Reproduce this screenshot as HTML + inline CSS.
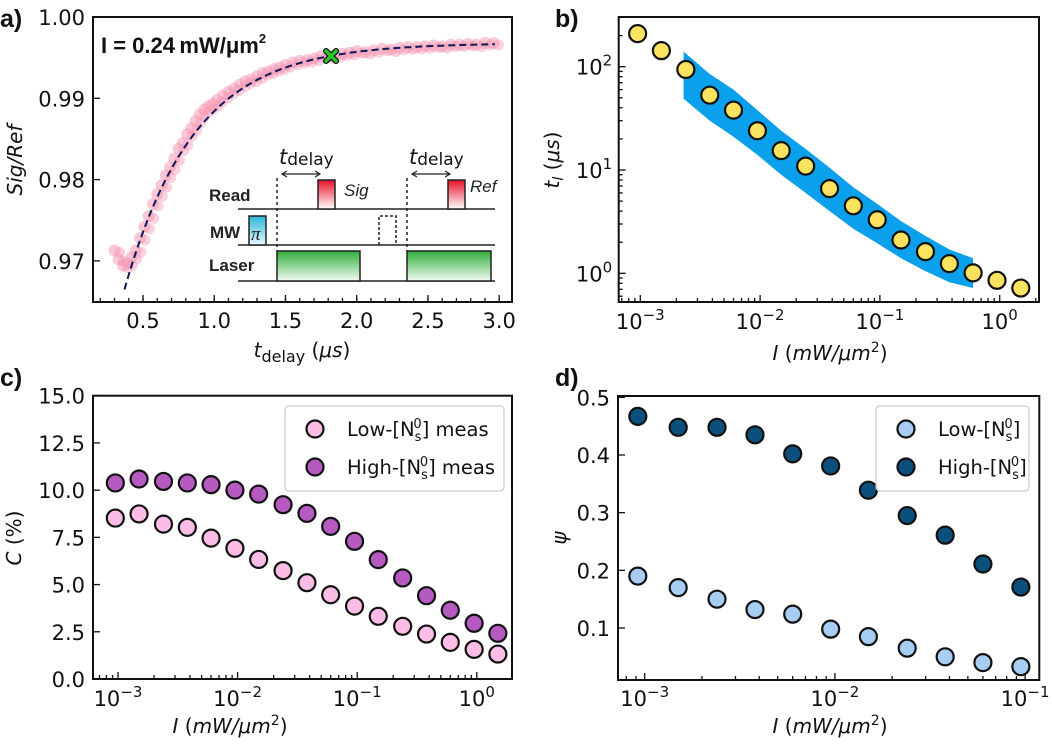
<!DOCTYPE html>
<html><head><meta charset="utf-8"><style>
html,body{margin:0;padding:0;background:#fff;}
svg{display:block;font-family:"DejaVu Sans","Liberation Sans",sans-serif;}
</style></head><body>
<svg id="fig" width="1052" height="748" viewBox="0 0 1052 748" xmlns="http://www.w3.org/2000/svg">
<g id="pa"></g>
<g id="pb"></g>
<g id="pc"></g>
<g id="pd"></g>
</svg>
<script>
// ---- Panel a data ----
const aTimes = [0.30,0.33,0.36,0.39,0.42,0.45,0.48,0.51,0.54,0.57,0.60,0.63,0.66,0.69,0.72,0.75,0.78,0.81,0.84,0.87,0.90,0.93,0.96,0.99,1.02,1.06,1.10,1.14,1.18,1.22,1.26,1.30,1.34,1.38,1.42,1.46,1.50,1.55,1.60,1.65,1.70,1.75,1.80,1.85,1.90,1.95,2.00,2.06,2.12,2.18,2.24,2.30,2.36,2.42,2.48,2.54,2.60,2.66,2.72,2.78,2.84,2.90,2.96];
const aRatio = [0.9713,0.9702,0.9694,0.9697,0.9705,0.9713,0.9728,0.9742,0.9755,0.9770,0.9782,0.9793,0.9805,0.9815,0.9826,0.9838,0.9845,0.9856,0.9863,0.9872,0.9880,0.9886,0.9890,0.9893,0.9898,0.9903,0.9908,0.9912,0.9917,0.9921,0.9923,0.9927,0.9931,0.9933,0.9936,0.9938,0.9941,0.9944,0.9946,0.9947,0.9949,0.9952,0.9951,0.9953,0.9955,0.9956,0.9958,0.9957,0.9959,0.9961,0.9960,0.9962,0.9963,0.9963,0.9964,0.9965,0.9964,0.9966,0.9966,0.9967,0.9966,0.9968,0.9968];
const aFitParams = [0.9968, 0.0645, 0.49]; // A, B, tau
const aFitRange = [0.37, 2.98];
const aMarker = [1.82, 0.9952];
const aXTicks = [0.5,1.0,1.5,2.0,2.5,3.0];
const aYTicks = [0.97,0.98,0.99,1.00];
// ---- Panel b data ----
const bIntensity = [0.00095,0.0015,0.0024,0.0038,0.006,0.0095,0.015,0.024,0.038,0.06,0.095,0.15,0.24,0.38,0.6,0.95,1.5];
const bTime = [209,143,94,53,38,24,15.4,10.9,6.6,4.5,3.3,2.1,1.62,1.24,1.01,0.855,0.72];
const bBandX = [0.0023,0.0038,0.006,0.0095,0.015,0.024,0.038,0.06,0.095,0.15,0.24,0.38,0.6];
const bBandUpper = [140,85,60,38,24,16,10.5,6.8,4.7,3.2,2.3,1.7,1.4];
const bBandLower = [49,30,21,14,9,6,4,2.7,1.95,1.4,1.05,0.82,0.72];
const bXTicks = [-3,-2,-1,0];
const bYTicks = [0,1,2];
// ---- Panel c data ----
const cIntensity = [0.00095,0.0015,0.0024,0.0038,0.006,0.0095,0.015,0.024,0.038,0.06,0.095,0.15,0.24,0.38,0.6,0.95,1.5];
const cLow = [8.52,8.74,8.2,8.03,7.46,6.92,6.33,5.74,5.1,4.46,3.86,3.32,2.79,2.38,1.94,1.57,1.32];
const cHigh = [10.38,10.59,10.46,10.38,10.29,10.0,9.79,9.23,8.77,8.08,7.29,6.32,5.35,4.41,3.64,2.95,2.42];
const cYTicks = [0,2.5,5,7.5,10,12.5,15];
const cXTicks = [-3,-2,-1,0];
// ---- Panel d data ----
const dIntensity = [0.00092,0.0015,0.0024,0.0038,0.006,0.0095,0.015,0.024,0.038,0.06,0.095];
const dLow = [0.190,0.170,0.150,0.132,0.124,0.098,0.085,0.065,0.050,0.040,0.033];
const dHigh = [0.467,0.448,0.448,0.435,0.402,0.381,0.339,0.295,0.261,0.211,0.171];
const dYTicks = [0.1,0.2,0.3,0.4,0.5];
const dXTicks = [-3,-2,-1];

const NS="http://www.w3.org/2000/svg";
function mk(parent,tag,attrs,text){const e=document.createElementNS(NS,tag);for(const k in attrs)e.setAttribute(k,attrs[k]);if(text!==undefined)e.textContent=text;parent.appendChild(e);return e;}
const L=Math.log10;
const TF=21, AF=20;

const xa=t=>93+(t-0.149)/(3.09-0.149)*(512-93);
const ya=v=>17+(1.0-v)/0.01*81.3;
const xb=v=>640.3+(L(v)+3)*119.8;
const yb=v=>170-(L(v)-1)*103.3;
const xc=v=>118+(L(v)+3)*119.6;
const yc=v=>679-v/15*283.3;
const xd=v=>644.7+(L(v)+3)*190.2;
const yd=v=>374+(70+(0.5-v)*1730)/3;

function frame(g,x0,y0,x1,y1){
  const r=mk(g,'rect',{x:x0,y:y0,width:x1-x0,height:y1-y0,fill:'none',stroke:'#111','stroke-width':2});
  
  
}
function tick(g,x1,y1,x2,y2){const t=mk(g,'line',{x1,y1,x2,y2,stroke:'#111','stroke-width':1.3});
  
  }
function label(g,x,y,txt,anchor,name,size){const t=mk(g,'text',{x,y,'text-anchor':anchor,'font-size':size||TF,fill:'#111'},txt);
  
  return t;}
function powLabel(g,x,y,exp,name){
  const t=mk(g,'text',{x,y,'text-anchor':'middle','font-size':TF,fill:'#111'});
  
  
  mk(t,'tspan',{},'10');
  mk(t,'tspan',{dy:-9,'font-size':15},exp<0?('\u2212'+(-exp)):String(exp));
}
function panelLetter(g,x,y,s){const t=mk(g,'text',{x,y,'font-size':25,'font-weight':'bold','font-family':'Liberation Sans, sans-serif',fill:'#111'},s);
  
  }
function logXTicks(g,sx,lo,hi,yb0,xmin,xmax){
  for(let d=lo;d<=hi;d++){for(let m=1;m<10;m++){const v=m*Math.pow(10,d);const x=sx(v);if(x<xmin||x>xmax)continue;
    tick(g,x,yb0,x,yb0-(m===1?7:4));}}
}
function logYTicks(g,sy,lo,hi,xl,ymin,ymax){
  for(let d=lo;d<=hi;d++){for(let m=1;m<10;m++){const v=m*Math.pow(10,d);const y=sy(v);if(y<ymin||y>ymax)continue;
    tick(g,xl,y,xl+(m===1?7:4),y);}}
}
function dot(g,x,y,r,fill,name){const c=mk(g,'circle',{cx:x,cy:y,r,fill,stroke:'#111','stroke-width':2.2});
  
  return c;}

// ===== Panel a =====
(function(){
  const g=document.getElementById('pa');
  panelLetter(g,0,27,'a)');
  const pts=mk(g,'g',{});
  
  
  aTimes.forEach((t,i)=>{const c=mk(pts,'circle',{cx:xa(t),cy:ya(aRatio[i]),r:6,fill:'#f59ab4','fill-opacity':0.55});
    
    
    const c2=mk(pts,'circle',{cx:xa(t)+5,cy:ya(aRatio[i])+2,r:5.5,fill:'#f59ab4','fill-opacity':0.45});
    
    });
  let d='';
  for(let t=aFitRange[0];t<=aFitRange[1]+1e-9;t+=0.02){const v=aFitParams[0]-aFitParams[1]*Math.exp(-t/aFitParams[2]);d+=(d?'L':'M')+xa(t).toFixed(1)+','+ya(v).toFixed(1);}
  const fit=mk(g,'path',{d,fill:'none',stroke:'#0d1a55','stroke-width':2,'stroke-dasharray':'7,4'});
  
  
  const mx=xa(aMarker[0]),my=ya(aMarker[1]);
  const xm=mk(g,'path',{d:`M${mx-5},${my-5}L${mx+5},${my+5}M${mx-5},${my+5}L${mx+5},${my-5}`,stroke:'#111','stroke-width':6,'stroke-linecap':'round'});
  
  
  mk(g,'path',{d:`M${mx-5},${my-5}L${mx+5},${my+5}M${mx-5},${my+5}L${mx+5},${my-5}`,stroke:'#2bc42b','stroke-width':3.5,'stroke-linecap':'round'});
  frame(g,93,17,512,302);
  aXTicks.forEach(v=>{tick(g,xa(v),302,xa(v),295);label(g,xa(v),328,v.toFixed(1),'middle','x-tick-label');});
  for(let v=0.2;v<=3.05;v+=0.1){const x=xa(v);tick(g,x,302,x,298);}
  aYTicks.forEach(v=>{tick(g,93,ya(v),100,ya(v));label(g,85,ya(v)+8,v.toFixed(2),'end','y-tick-label');});
  const yl=mk(g,'text',{x:0,y:0,transform:'translate(22,160) rotate(-90)','text-anchor':'middle','font-size':AF,'font-style':'italic',fill:'#111'},'Sig/Ref');
  
  
  const xl=mk(g,'text',{x:302,y:357,'text-anchor':'middle','font-size':AF,fill:'#111'});
  
  
  mk(xl,'tspan',{'font-style':'italic'},'t');mk(xl,'tspan',{dy:5,'font-size':16},'delay');mk(xl,'tspan',{dy:-5},' (');mk(xl,'tspan',{'font-style':'italic'},'\u03bcs');mk(xl,'tspan',{},')');
  const ann=mk(g,'text',{x:101,y:53,'font-size':22,'font-weight':'bold','font-family':'Liberation Sans, sans-serif',fill:'#111'});
  
  
  mk(ann,'tspan',{},'I = 0.24\u2009mW/\u03bcm');mk(ann,'tspan',{dy:-10,'font-size':13},'2');
  const ins=mk(g,'g',{'font-family':'Liberation Sans, sans-serif'});
  
  
  const defs=mk(ins,'defs',{});
  const gr=mk(defs,'linearGradient',{id:'gRed',x1:0,y1:0,x2:0,y2:1});mk(gr,'stop',{offset:0,'stop-color':'#e8102a'});mk(gr,'stop',{offset:1,'stop-color':'#fff'});
  const gg=mk(defs,'linearGradient',{id:'gGreen',x1:0,y1:0,x2:0,y2:1});mk(gg,'stop',{offset:0,'stop-color':'#2fae3a'});mk(gg,'stop',{offset:1,'stop-color':'#f4fcf4'});
  const gc=mk(defs,'linearGradient',{id:'gCyan',x1:0,y1:0,x2:0,y2:1});mk(gc,'stop',{offset:0,'stop-color':'#2ab8d8'});mk(gc,'stop',{offset:1,'stop-color':'#e8f8fc'});
  [209,245,281].forEach(y=>mk(ins,'line',{x1:238,y1:y,x2:495,y2:y,stroke:'#222','stroke-width':1.5}));
  mk(ins,'rect',{x:318,y:180,width:17,height:29,fill:'url(#gRed)',stroke:'#222','stroke-width':1.5});
  mk(ins,'rect',{x:448,y:180,width:17,height:29,fill:'url(#gRed)',stroke:'#222','stroke-width':1.5});
  mk(ins,'rect',{x:249,y:216,width:17,height:29,fill:'url(#gCyan)',stroke:'#222','stroke-width':1.5});
  mk(ins,'path',{d:'M379,245V216H396V245',fill:'none',stroke:'#222','stroke-width':1.5,'stroke-dasharray':'3,2'});
  mk(ins,'rect',{x:277,y:251,width:83,height:30,fill:'url(#gGreen)',stroke:'#222','stroke-width':1.5});
  mk(ins,'rect',{x:407,y:251,width:84,height:30,fill:'url(#gGreen)',stroke:'#222','stroke-width':1.5});
  [277,407].forEach(x=>mk(ins,'line',{x1:x,y1:178,x2:x,y2:251,stroke:'#222','stroke-width':1.5,'stroke-dasharray':'3,3'}));
  [[282,320],[412,450]].forEach(([a,b])=>{mk(ins,'line',{x1:a,y1:174,x2:b,y2:174,stroke:'#222','stroke-width':1.2});
    mk(ins,'path',{d:`M${a+5},171L${a},174L${a+5},177M${b-5},171L${b},174L${b-5},177`,fill:'none',stroke:'#222','stroke-width':1.2});});
  [279,409].forEach(x=>{const t=mk(ins,'text',{x,y:164,'font-size':21,fill:'#111','font-family':'DejaVu Sans, sans-serif'});
    mk(t,'tspan',{'font-style':'italic'},'t');mk(t,'tspan',{'font-size':17,dy:1},'delay');});
  mk(ins,'text',{x:209,y:201,'font-size':17,'font-weight':'bold',fill:'#222'},'Read');
  mk(ins,'text',{x:210,y:238,'font-size':17,'font-weight':'bold',fill:'#222'},'MW');
  mk(ins,'text',{x:209,y:271,'font-size':17,'font-weight':'bold',fill:'#222'},'Laser');
  mk(ins,'text',{x:251,y:240,'font-size':19,'font-style':'italic','font-family':'Liberation Serif, serif',fill:'#222'},'\u03c0');
  mk(ins,'text',{x:344,y:196,'font-size':17,'font-style':'italic',fill:'#222'},'Sig');
  mk(ins,'text',{x:470,y:192,'font-size':17,'font-style':'italic',fill:'#222'},'Ref');
})();

// ===== Panel b =====
(function(){
  const g=document.getElementById('pb');
  panelLetter(g,555,27,'b)');
  let d='';
  bBandX.forEach((v,i)=>{d+=(i?'L':'M')+xb(v).toFixed(1)+','+yb(bBandUpper[i]).toFixed(1);});
  for(let i=bBandX.length-1;i>=0;i--)d+='L'+xb(bBandX[i]).toFixed(1)+','+yb(bBandLower[i]).toFixed(1);
  const band=mk(g,'path',{d:d+'Z',fill:'#0aa0ec'});
  
  
  bIntensity.forEach((v,i)=>dot(g,xb(v),yb(bTime[i]),8.5,'#fbe25f','ti-point'));
  frame(g,618.7,17,1039,302);
  logXTicks(g,xb,-4,0,302,619,1039);
  logYTicks(g,yb,-1,2,618.7,17,302);
  bXTicks.forEach(e=>powLabel(g,xb(Math.pow(10,e)),329,e,'x-tick-label'));
  bYTicks.forEach(e=>powLabel(g,594,yb(Math.pow(10,e))+8,e,'y-tick-label'));
  const yl=mk(g,'text',{x:0,y:0,transform:'translate(559,160) rotate(-90)','text-anchor':'middle','font-size':AF,fill:'#111'});
  
  
  mk(yl,'tspan',{'font-style':'italic'},'t');mk(yl,'tspan',{'font-style':'italic','font-size':14,dy:4},'l');mk(yl,'tspan',{dy:-4},' (');mk(yl,'tspan',{'font-style':'italic'},'\u03bcs');mk(yl,'tspan',{},')');
  const xl=mk(g,'text',{x:830,y:360,'text-anchor':'middle','font-size':AF,fill:'#111'});
  
  
  mk(xl,'tspan',{'font-style':'italic'},'I');mk(xl,'tspan',{},' (');mk(xl,'tspan',{'font-style':'italic'},'mW/\u03bcm');mk(xl,'tspan',{dy:-8,'font-size':14},'2');mk(xl,'tspan',{dy:8},')');
})();

function legend(g,x,y,w,h,entries){
  const lg=mk(g,'g',{});
  
  
  mk(lg,'rect',{x,y,width:w,height:h,rx:4,fill:'#fff','fill-opacity':0.85,stroke:'#ccc','stroke-width':1.2});
  entries.forEach((e,i)=>{const cy=y+23+i*38;
    const ent=mk(lg,'g',{});
    
    
    dot(ent,x+30,cy,8.5,e.color,'legend-marker');
    const t=mk(ent,'text',{x:x+62,y:cy+7,'font-size':19.5,fill:'#111'});
    mk(t,'tspan',{},e.pre+'-[N');
    mk(t,'tspan',{'font-size':13,dy:5},'s');
    mk(t,'tspan',{'font-size':13,dx:-8,dy:-13},'0');
    mk(t,'tspan',{dy:8},']'+e.post);
  });
}
function dAxisTitle(g,cx){
  const xl=mk(g,'text',{x:cx,y:733,'text-anchor':'middle','font-size':AF,fill:'#111'});
  
  
  mk(xl,'tspan',{'font-style':'italic'},'I');mk(xl,'tspan',{},' (');mk(xl,'tspan',{'font-style':'italic'},'mW/\u03bcm');mk(xl,'tspan',{dy:-8,'font-size':14},'2');mk(xl,'tspan',{dy:8},')');
}

// ===== Panel c =====
(function(){
  const g=document.getElementById('pc');
  panelLetter(g,0,386,'c)');
  cIntensity.forEach((v,i)=>dot(g,xc(v),yc(cLow[i]),8.5,'#fbbde6','low-ns-point'));
  cIntensity.forEach((v,i)=>dot(g,xc(v),yc(cHigh[i]),8.5,'#b65ac2','high-ns-point'));
  frame(g,93,395.7,512,679);
  logXTicks(g,xc,-4,0,679,93,512);
  cXTicks.forEach(e=>powLabel(g,xc(Math.pow(10,e)),706,e,'x-tick-label'));
  cYTicks.forEach(v=>{tick(g,93,yc(v),100,yc(v));label(g,85,yc(v)+8,v.toFixed(1),'end','y-tick-label');});
  legend(g,285,406,219,85,[{color:'#fbbde6',pre:'Low',post:' meas'},{color:'#b65ac2',pre:'High',post:' meas'}]);
  const yl=mk(g,'text',{x:0,y:0,transform:'translate(21,538) rotate(-90)','text-anchor':'middle','font-size':AF,fill:'#111'});
  
  
  mk(yl,'tspan',{'font-style':'italic'},'C');mk(yl,'tspan',{},' (%)');
  dAxisTitle(g,230);
})();

// ===== Panel d =====
(function(){
  const g=document.getElementById('pd');
  panelLetter(g,555,386,'d)');
  dIntensity.forEach((v,i)=>dot(g,xd(v),yd(dLow[i]),8.5,'#a7cef2','low-ns-point'));
  dIntensity.forEach((v,i)=>dot(g,xd(v),yd(dHigh[i]),8.5,'#0b4f7d','high-ns-point'));
  frame(g,618,396,1039.3,680);
  logXTicks(g,xd,-4,-1,680,618,1039);
  dXTicks.forEach(e=>powLabel(g,xd(Math.pow(10,e)),706,e,'x-tick-label'));
  dYTicks.forEach(v=>{tick(g,618,yd(v),625,yd(v));label(g,610,yd(v)+8,v.toFixed(1),'end','y-tick-label');});
  legend(g,876,406,153,85,[{color:'#a7cef2',pre:'Low',post:''},{color:'#0b4f7d',pre:'High',post:''}]);
  const yl=mk(g,'text',{x:0,y:0,transform:'translate(566,538) rotate(-90)','text-anchor':'middle','font-size':AF,'font-style':'italic',fill:'#111'},'\u03c8');
  
  
  dAxisTitle(g,830);
})();
</script>
</body></html>
